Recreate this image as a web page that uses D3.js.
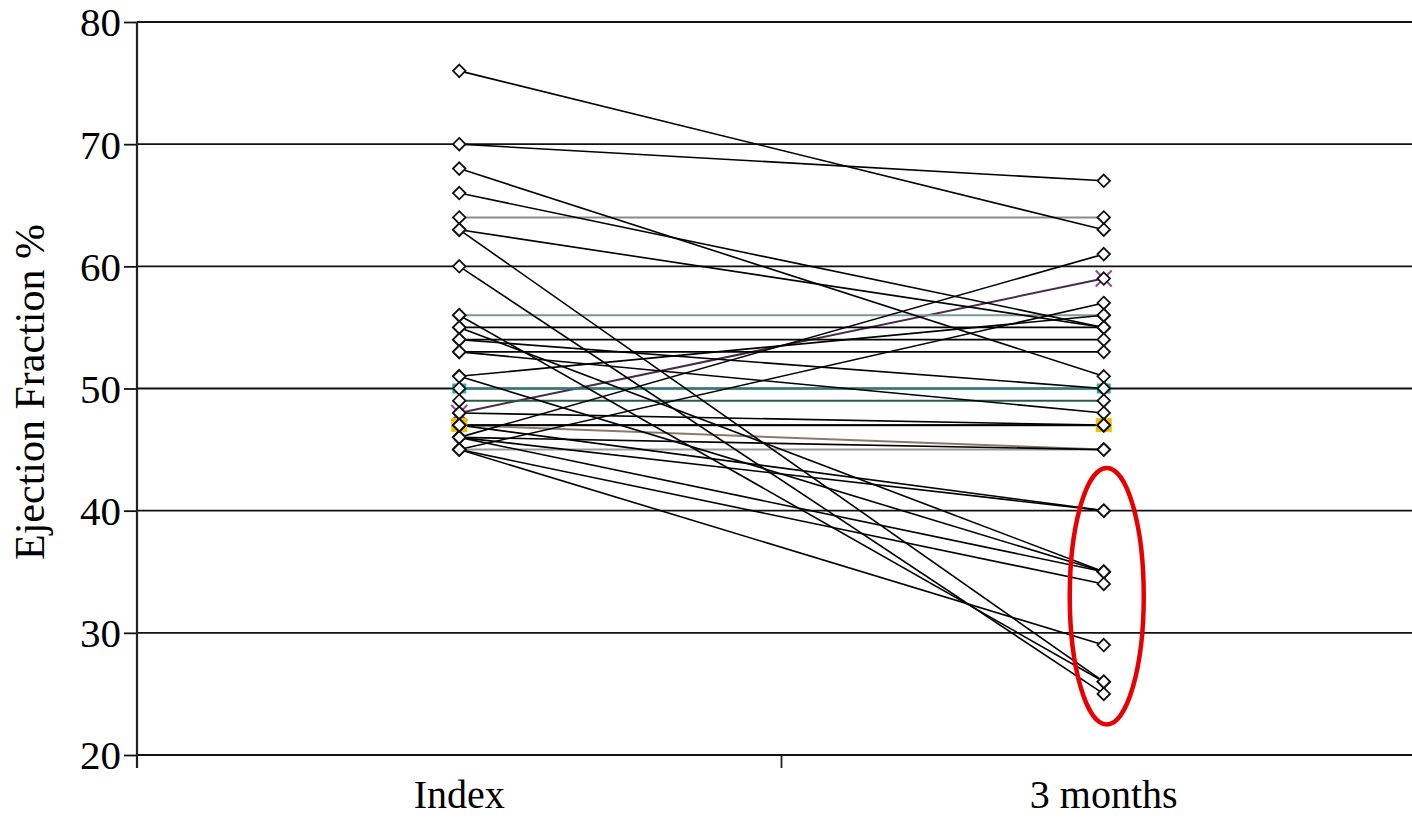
<!DOCTYPE html>
<html>
<head>
<meta charset="utf-8">
<script src="https://cdn.jsdelivr.net/npm/d3@7"></script>
<style>
  html, body { margin: 0; padding: 0; background: #fff; }
  svg { display: block; }
  text { font-family: "Liberation Serif", "Times New Roman", serif; fill: #000; }
</style>
</head>
<body>
<svg id="chart" width="1412" height="819"></svg>
<script>
// ---- data ----
const categories = ["Index", "3 months"];
const yTicks = [20, 30, 40, 50, 60, 70, 80];
// each patient: [index EF, 3-month EF]
const indexValues  = [76, 70, 68, 66, 63, 63, 60, 56, 55, 55, 54, 54, 53, 53, 51, 51, 46, 45, 47, 46, 46, 47, 46, 45, 45, 48, 64, 45, 56, 50, 49, 48, 47, 47];
const monthValues  = [63, 67, 51, 55, 55, 26, 25, 26, 55, 35, 54, 50, 53, 48, 56, 35, 61, 57, 47, 45, 40, 40, 35, 34, 29, 47, 64, 45, 56, 50, 49, 59, 45, 47];
const seriesColors = ["#000","#000","#000","#000","#000","#000","#000","#000","#000","#000","#000","#000","#000","#000","#000","#000","#000","#000","#000","#000","#000","#000","#000","#000","#000","#000",
                      "#8a8a8a","#9a9a9a","#7a9898","#2a7f7f","#2a5a44","#4a2a4a","#8c7866","#222"];
const markerExtras = [{v: 59, cat: "3 months", kind: "x", color: "#a040a0"},
                      {v: 48, cat: "Index", kind: "x", color: "#a040a0"},
                      {v: 47, cat: "Index", kind: "tri", color: "#f0c000"},
                      {v: 47, cat: "3 months", kind: "tri", color: "#f0c000"},
                      {v: 50, cat: "Index", kind: "sq", color: "#20b0b0"},
                      {v: 50, cat: "3 months", kind: "sq", color: "#20b0b0"}];
const yLabel = "Ejection Fraction %";

// ---- scales ----
const svg = d3.select("#chart");
const x = d3.scaleBand().domain(categories).range([137, 1426]).padding(0);
const y = d3.scaleLinear().domain([20, 80]).range([755, 22]);
const cx = c => x(c) + x.bandwidth() / 2;

// gridlines
svg.append("g").selectAll("line").data(yTicks).join("line")
  .attr("x1", 137).attr("x2", 1412)
  .attr("y1", d => y(d)).attr("y2", d => y(d))
  .attr("stroke", "#111").attr("stroke-width", 1.8);

// y axis
const yAxis = d3.axisLeft(y).tickValues(yTicks).tickSize(13).tickPadding(3).tickFormat(d3.format("d"));
const gy = svg.append("g").attr("transform", "translate(137,0)").call(yAxis);
gy.select(".domain").remove();
gy.selectAll(".tick line").attr("stroke", "#111").attr("stroke-width", 1.8);
gy.selectAll(".tick text").style("font-family", '"Liberation Serif", serif').style("font-size", "41px").attr("fill", "#000").attr("dy", "0.34em");
svg.append("line").attr("x1", 137).attr("x2", 137).attr("y1", y(80)).attr("y2", 768)
  .attr("stroke", "#222").attr("stroke-width", 2.2);

// x axis
const xAxis = d3.axisBottom(x).tickSize(0).tickPadding(0);
const gx = svg.append("g").attr("transform", "translate(0,755)").call(xAxis);
gx.select(".domain").remove();
gx.selectAll(".tick line").remove();
gx.selectAll(".tick text").style("font-family", '"Liberation Serif", serif').style("font-size", "40px").attr("fill", "#000").attr("y", 53).attr("dy", 0);
// category separators
svg.append("g").selectAll("line").data(categories).join("line")
  .attr("x1", d => x(d)).attr("x2", d => x(d))
  .attr("y1", 755).attr("y2", 768)
  .attr("stroke", "#222").attr("stroke-width", 1.8);

// y label
svg.append("text").attr("transform", "translate(44,392) rotate(-90)")
  .attr("text-anchor", "middle").style("font-size", "42px").text(yLabel);

// series lines
const data = indexValues.map((v, i) => ({a: v, b: monthValues[i], color: seriesColors[i]}));
const line = d3.line().x(d => cx(d[0])).y(d => y(d[1]));
const order = d3.range(data.length).reverse();
svg.append("g").selectAll("path").data(order.map(i => data[i])).join("path")
  .attr("d", d => line([[categories[0], d.a], [categories[1], d.b]]))
  .attr("fill", "none").attr("stroke", d => d.color)
  .attr("stroke-width", d => d.color === "#000" ? 1.6 : 2);

// extra coloured markers (behind diamonds)
const ex = svg.append("g");
markerExtras.forEach(m => {
  const px = cx(m.cat), py = y(m.v);
  if (m.kind === "x") {
    ex.append("path").attr("d", `M${px-8},${py-8}L${px+8},${py+8}M${px-8},${py+8}L${px+8},${py-8}`)
      .attr("stroke", m.color).attr("stroke-width", 2);
  } else if (m.kind === "tri") {
    ex.append("path").attr("d", `M${px-8},${py-7}L${px+8},${py-7}L${px+8},${py+7}L${px-8},${py+7}Z`)
      .attr("fill", m.color);
  } else {
    ex.append("rect").attr("x", px - 7).attr("y", py - 5).attr("width", 14).attr("height", 10)
      .attr("fill", m.color);
  }
});

// diamond markers
const pts = [];
data.forEach(d => { pts.push([categories[0], d.a]); pts.push([categories[1], d.b]); });
const diamond = d3.symbol().type(d3.symbolDiamond2).size(100);
svg.append("g").selectAll("path").data(pts).join("path")
  .attr("d", diamond)
  .attr("transform", d => `translate(${cx(d[0])},${y(d[1])})`)
  .attr("fill", "#fff").attr("stroke", "#111").attr("stroke-width", 1.8);

// red highlight ellipse
svg.append("ellipse").attr("cx", cx(categories[1]) + 3).attr("cy", (y(43.5) + y(22.5)) / 2)
  .attr("rx", 37).attr("ry", (y(22.5) - y(43.5)) / 2)
  .attr("fill", "none").attr("stroke", "#e80000").attr("stroke-width", 4.5);
</script>
</body>
</html>
